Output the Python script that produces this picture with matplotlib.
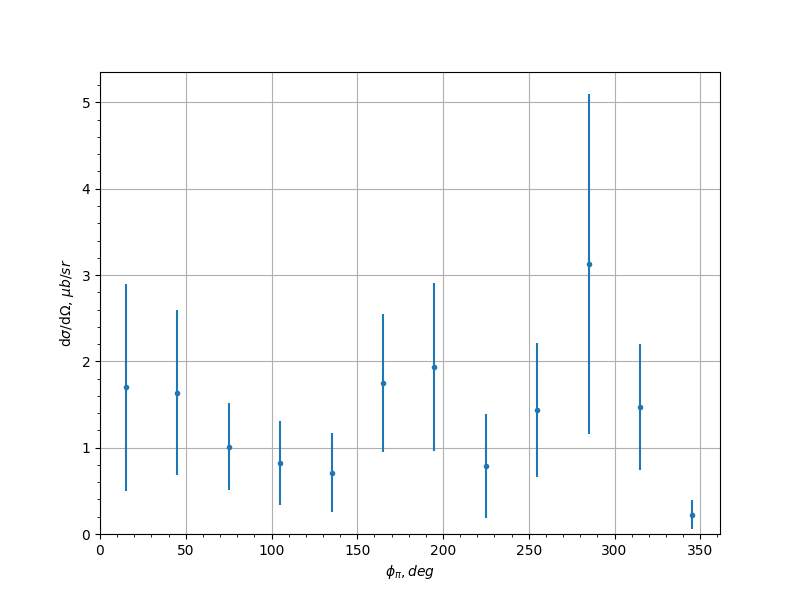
import matplotlib
matplotlib.use("Agg")
import matplotlib.pyplot as plt

phi = [15, 45, 75, 105, 135, 165, 195, 225, 255, 285, 315, 345]
xsec = [1.70, 1.635, 1.01, 0.82, 0.71, 1.75, 1.935, 0.79, 1.44, 3.13, 1.47, 0.225]
err = [1.20, 0.955, 0.505, 0.485, 0.455, 0.80, 0.975, 0.60, 0.775, 1.97, 0.73, 0.165]

fig, ax = plt.subplots(figsize=(8, 6), dpi=100)
ax.errorbar(phi, xsec, yerr=err, fmt='o', markersize=3, color='#1f77b4')
ax.set_xlim(left=0)
ax.set_ylim(bottom=0)
ax.minorticks_on()
ax.grid(True, which='major')
ax.set_xlabel(r'$\phi_{\pi}, deg$')
ax.set_ylabel(r'd$\sigma$/d$\Omega$, $\mu b/sr$')
fig.savefig('out.png', dpi=100)
